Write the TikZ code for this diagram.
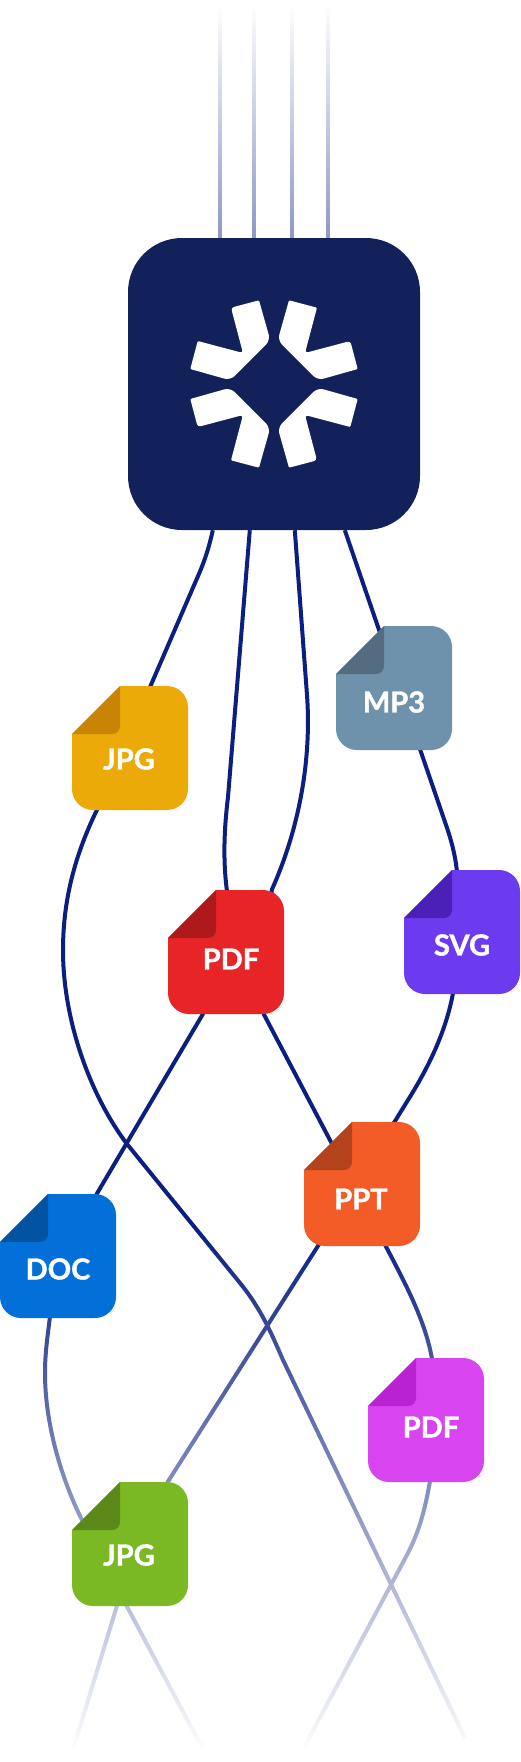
\documentclass[tikz,border=0pt]{standalone}
\usepackage{fontspec}
\setmainfont{Lato}[BoldFeatures={FakeBold=1.3}]
\usetikzlibrary{fadings,backgrounds}

\definecolor{hubblue}{HTML}{13215A}
\definecolor{strandblue}{HTML}{0A1F80}
\definecolor{feedblue}{HTML}{8F99C6}
\definecolor{jpgbody}{HTML}{EBAA08}
\definecolor{jpgfold}{HTML}{C98404}
\definecolor{mpbody}{HTML}{6E92AC}
\definecolor{mpfold}{HTML}{536C80}
\definecolor{redbody}{HTML}{E82526}
\definecolor{redfold}{HTML}{AE1A1A}
\definecolor{svgbody}{HTML}{6C3BF0}
\definecolor{svgfold}{HTML}{4B20B8}
\definecolor{pptbody}{HTML}{F35C26}
\definecolor{pptfold}{HTML}{B2431A}
\definecolor{docbody}{HTML}{0270D8}
\definecolor{docfold}{HTML}{0254A2}
\definecolor{pinkbody}{HTML}{D845F0}
\definecolor{pinkfold}{HTML}{B922D0}
\definecolor{greenbody}{HTML}{7AB923}
\definecolor{greenfold}{HTML}{5B8A1A}
\tikzfading[name=fadedown,top color=transparent!100,bottom color=transparent!0]
\tikzfading[name=fadeup,top color=transparent!0,bottom color=transparent!100]

\tikzset{
  hubbox/.style={fill=hubblue,rounded corners=54pt,minimum size=292pt,inner sep=0pt},
  filebox/.style={minimum width=116pt,minimum height=124pt,inner sep=0pt},
  filetag/.style={text=white,inner sep=0pt,font=\fontsize{29}{29}\selectfont\bfseries},
  strand/.style={line width=4pt,strandblue,line join=round},
  feed/.style={line width=4pt,feedblue}
}

% #1 name, #2 top left corner, #3 body, #4 fold, #5 text, #6 text centre
\newcommand{\fileicon}[6]{
  \begin{scope}[shift={(#2)}]
    \fill[#3,rounded corners=21pt] (48,0) -- (116,0) -- (116,124) -- (0,124) -- (0,48);
    \fill[#4,rounded corners=8pt] (48,0) -- (48,48) -- (0,48);
    \node[filebox] (#1) at (58,62) {};
    \node[filetag] (#1tag) at (#6) {#5};
  \end{scope}
}

\begin{document}
\begin{tikzpicture}[x=1pt,y=-1pt]
\useasboundingbox (0,0) rectangle (520,1762);

\node[hubbox] (hub) at (274,384) {};
\foreach \r in {0,90,180,270}
  \fill[white,shift={(hub.center)},rotate=\r,rounded corners=1pt]
    (-43,-76.3) -- (-15,-83.7) [rounded corners=6pt] -- (-3.7,-43.7) -- (-43.7,-3.7)
    [rounded corners=1pt] -- (-83.7,-15) -- (-76.3,-43) [rounded corners=3pt] -- (-31,-31) -- cycle;

\fileicon{jpgA}{72,686}{jpgbody}{jpgfold}{JPG}{57,73}
\fileicon{mp}{336,626}{mpbody}{mpfold}{MP3}{58,76}
\fileicon{pdfA}{168,890}{redbody}{redfold}{PDF}{63,69}
\fileicon{svg}{404,870}{svgbody}{svgfold}{SVG}{58,75}
\fileicon{ppt}{304,1122}{pptbody}{pptfold}{PPT}{57,77}
\fileicon{doc}{0,1194}{docbody}{docfold}{DOC}{58,75}
\fileicon{pdfB}{368,1358}{pinkbody}{pinkfold}{PDF}{63,69}
\fileicon{jpgB}{72,1482}{greenbody}{greenfold}{JPG}{57,73}

\coordinate (endA) at (465,1738);
\coordinate (endB) at (205,1753);
\coordinate (endC) at (300,1755);
\coordinate (endD) at (72,1753);

\begin{scope}[on background layer]
\foreach \x in {220,254,292,328}
  \draw[feed] (\x,0) -- (\x,0 |- hub.north);

\draw[strand] ([xshift=85pt]hub.south west) .. controls (208,552) and (203,565) .. (195,583)
  -- ([xshift=25pt]jpgA.south west) .. controls (75,855) and (63,900) .. (63,950)
  .. controls (63,1020) and (90,1095) .. (127,1144) -- (240,1283)
  .. controls (262,1310) and (272,1335) .. (283,1360) -- (endA);
\draw[strand] ([xshift=122pt]hub.south west) -- (228,797)
  .. controls (224,830) and (223,860) .. ([xshift=59pt]pdfA.north west)
  -- ([xshift=35pt]pdfA.south west) -- ([xshift=97pt]doc.north west)
  -- ([xshift=50pt]doc.south west) .. controls (47,1340) and (45,1355) .. (45,1373)
  .. controls (45,1425) and (62,1480) .. (82,1520) -- ([xshift=55pt]jpgB.south west) -- (endB);
\draw[strand] ([xshift=167pt]hub.south west) -- (307,695)
  .. controls (311,750) and (303,820) .. ([xshift=104pt]pdfA.north west)
  -- ([xshift=96pt]pdfA.south west) -- ([xshift=82pt]ppt.south west)
  .. controls (405,1283) and (425,1320) .. ([xshift=64pt]pdfB.north west)
  -- ([xshift=62pt]pdfB.south west) .. controls (424,1515) and (418,1533) .. (408,1553) -- (endC);
\draw[strand] ([xshift=217pt]hub.south west) -- (445,822)
  .. controls (452,842) and (455,855) .. ([xshift=53pt]svg.north west)
  -- ([xshift=49pt]svg.south west) .. controls (446,1030) and (430,1065) .. (408,1100)
  -- ([xshift=14pt]ppt.south west) -- ([xshift=96pt]jpgB.north west)
  -- ([xshift=45pt]jpgB.south west) -- (endD);

\fill[white] (0,0) rectangle (520,4);
\fill[white,path fading=fadeup] (0,4) rectangle (520,238);
\fill[white,path fading=fadedown] (0,1230) rectangle (520,1750);
\fill[white] (0,1750) rectangle (520,1762);
\end{scope}
\end{tikzpicture}
\end{document}
